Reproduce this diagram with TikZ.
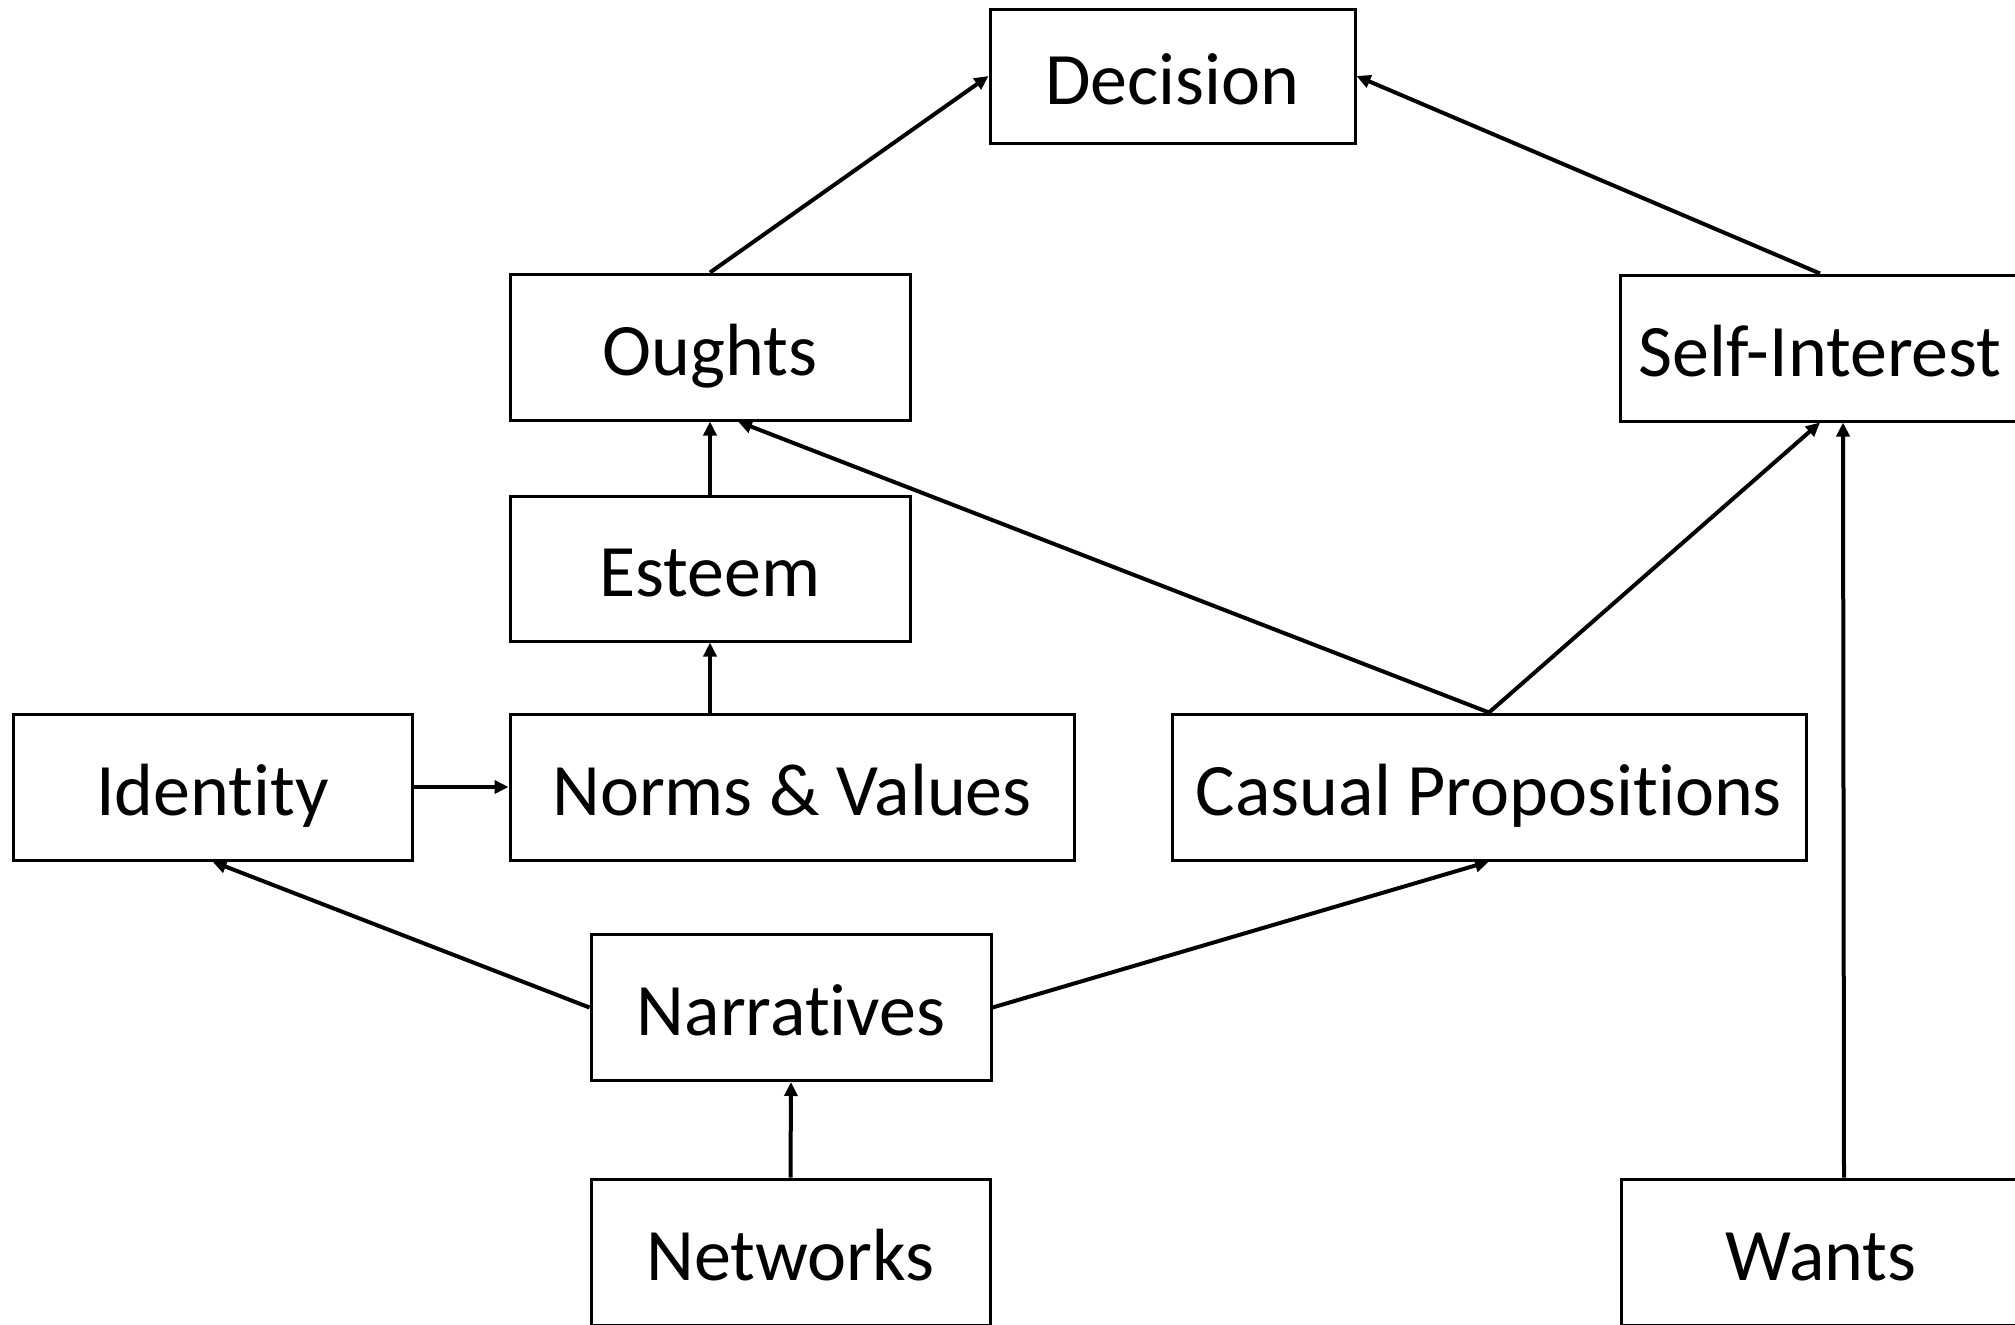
\documentclass[tikz,border=0pt]{standalone}
\usepackage{fontspec}
\setmainfont[Ligatures=NoCommon]{Carlito}
\usetikzlibrary{arrows.meta}
\begin{document}
\begin{tikzpicture}[x=0.5pt,y=-0.5pt,
  box/.style={draw=black,line width=1.5pt,fill=white,inner sep=0pt,
    font=\fontsize{37}{44}\selectfont,minimum height=73pt,
    text height=28pt,text depth=0pt},
  arr/.style={line width=2pt,-{Triangle[length=7pt,width=6.5pt]}}]
\useasboundingbox (0,0) rectangle (2015,1324);
\clip (0,0) rectangle (2015,1324);
\node[box,minimum width=182.5pt,minimum height=67pt] (Decision) at (1172.5,76) {Decision};
\node[box,minimum width=200pt] (Oughts) at (710,347) {Oughts};
\node[box,minimum width=200pt] (Self) at (1820,348) {Self-Interest};
\node[box,minimum width=200pt,minimum height=72.5pt] (Esteem) at (710,568.5) {Esteem};
\node[box,minimum width=199.5pt] (Identity) at (212.5,787) {Identity};
\node[box,minimum width=282pt] (Norms) at (792,787) {Norms \& Values};
\node[box,minimum width=317pt] (Casual) at (1489,787) {Casual Propositions};
\node[box,minimum width=200pt] (Narratives) at (791,1007.5) {Narratives};
\node[box,minimum width=199.5pt] (Networks) at (790.5,1252) {Networks};
\node[box,minimum width=200pt] (Wants) at (1821,1252) {Wants};
\draw[arr] (Oughts.north) -- (Decision.west);
\draw[arr] (Self.north) -- (Decision.east);
\draw[arr] (Esteem.north) -- (Oughts.south);
\draw[arr] (Esteem.south |- Norms.north) -- (Esteem.south);
\draw[arr] (Identity.east) -- (Norms.west);
\draw[arr] (Casual.north) -- ([xshift=14pt]Oughts.south);
\draw[arr] (Casual.north) -- (Self.south);
\draw[arr] (Narratives.west) -- (Identity.south);
\draw[arr] (Narratives.east) -- (Casual.south);
\draw[arr] (Networks.north) -- (Narratives.south);
\draw[arr] ([xshift=11.5pt]Wants.north) -- ([xshift=11.5pt]Self.south);
\end{tikzpicture}
\end{document}
